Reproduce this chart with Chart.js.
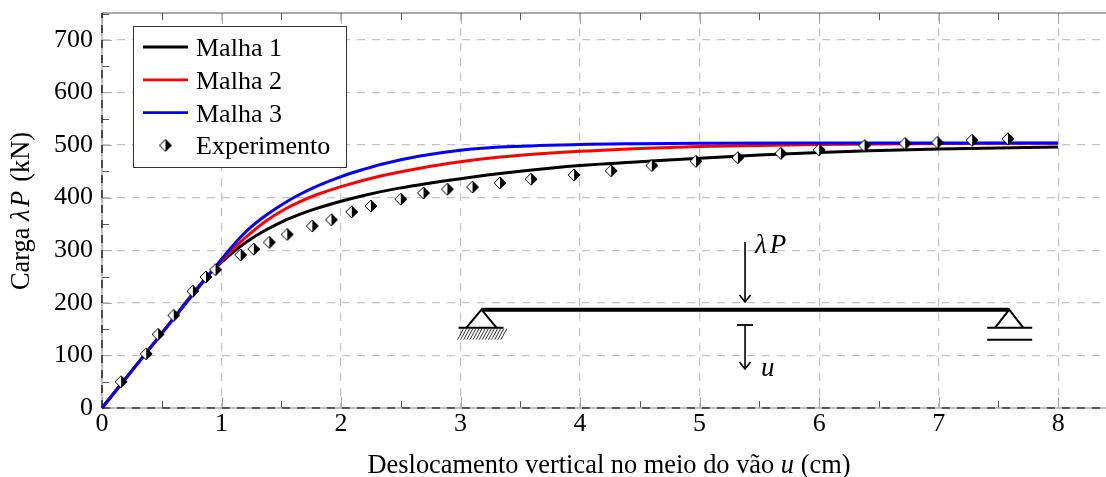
<!DOCTYPE html>
<html><head><meta charset="utf-8">
<style>html,body{margin:0;padding:0;background:#fff}canvas{display:block}</style>
<script src="https://cdn.jsdelivr.net/npm/chart.js@4/dist/chart.umd.min.js"></script>
</head><body><div style="width:1106px;height:477px"><canvas id="c"></canvas></div>
<script>
const malha1X=[0,0.5,0.9,1.1,1.236,1.375,1.514,1.653,1.79,2,2.208,2.486,3,3.5,4,4.5,5,5.5,6,6.5,7,7.5,8];
const malha1Y=[0,142,255,297,320,339,355,368,379,393,405,418,436,450,461,468,475,481,486,489.5,492.5,494.5,496];
const malha2X=[0,0.5,0.9,1.1,1.236,1.375,1.514,1.653,1.79,2,2.33,2.66,3,3.33,4,4.5,5,6,7,8];
const malha2Y=[0,142,255,303,331,356,376,392,405,421,441,456,468,477,488,493.5,497,501,503,503.5];
const malha3X=[0,0.5,0.9,1.1,1.236,1.375,1.514,1.653,1.79,2,2.208,2.33,2.66,3,3.33,4,4.5,5,6,8];
const malha3Y=[0,142,255,310,342,367,388,406,421,440,455,463,479,490,496,501,502.5,503.5,504,504];
const expX=[0.16,0.37,0.47,0.6,0.76,0.87,0.95,1.16,1.27,1.4,1.55,1.76,1.92,2.09,2.25,2.5,2.69,2.89,3.1,3.33,3.59,3.95,4.26,4.6,4.97,5.32,5.68,6.0,6.38,6.72,6.99,7.28,7.58];
const expY=[50,103,140,176,222,249,263,291,302,315,330,346,358,373,384,397,409,416,420,428,435,443,451,461,469,476,484,491,499,503,505,509,512];
const seriesNames=["Malha 1","Malha 2","Malha 3","Experimento"];
const seriesColors=["#000000","#ff0000","#0000ff"];
const xTitle=["Deslocamento vertical no meio do vão ","u"," (cm)"];
const yTitle=["Carga ","λP"," (kN)"];
const pair=(a,b)=>a.map((x,i)=>({x,y:b[i]}));
const FONT='"Liberation Serif"';
const SIZE=26;
function diamond(r){
  const c=document.createElement('canvas');const s=2*Math.ceil(r)+4;c.width=c.height=s;const g=c.getContext('2d');const m=s/2;
  g.fillStyle='#fff';g.beginPath();g.moveTo(m,m-r);g.lineTo(m-r,m);g.lineTo(m,m+r);g.closePath();g.fill();
  g.fillStyle='#000';g.beginPath();g.moveTo(m,m-r);g.lineTo(m+r,m);g.lineTo(m,m+r);g.closePath();g.fill();
  g.strokeStyle='#000';g.lineWidth=1;g.beginPath();g.moveTo(m,m-r);g.lineTo(m+r,m);g.lineTo(m,m+r);g.lineTo(m-r,m);g.closePath();g.stroke();
  return c;
}
const marker=diamond(6);
function line(g,pts,w){g.lineWidth=w;g.beginPath();pts.forEach((p,i)=>i?g.lineTo(p[0],p[1]):g.moveTo(p[0],p[1]));g.stroke();}
function arrow(g,x,y0,y1){line(g,[[x,y0],[x,y1]],1.6);line(g,[[x-5.5,y1-7],[x,y1],[x+5.5,y1-7]],1.6);}
const overlay={id:'overlay',
  beforeDatasetsDraw(ch){
    const g=ch.ctx,a=ch.chartArea,xs=ch.scales.x,ys=ch.scales.y;g.save();
    xs.ticks.forEach(t=>{const px=Math.round(xs.getPixelForValue(t.value))+.5,maj=Number.isInteger(t.value);
      g.strokeStyle=maj?'#a8a8a8':'#555';const l=maj?11:7;
      line(g,[[px,a.bottom],[px,a.bottom-l]],1);line(g,[[px,a.top],[px,a.top+l]],1);});
    ys.ticks.forEach(t=>{const py=Math.round(ys.getPixelForValue(t.value))+.5,maj=t.value%100===0;
      g.strokeStyle=maj?'#a8a8a8':'#555';const l=maj?10:7;
      line(g,[[a.left,py],[a.left+l,py]],1);});
    g.strokeStyle='#a8a8a8';line(g,[[a.left,a.bottom],[a.right,a.bottom]],1.4);line(g,[[a.left,a.bottom],[a.left,a.top]],1.4);
    g.strokeStyle='#555';line(g,[[a.left,a.top],[a.right,a.top]],1.2);
    g.strokeStyle='#000';g.setLineDash([8,7]);
    line(g,[[a.left,a.bottom],[a.right,a.bottom]],1.2);line(g,[[a.left,a.bottom],[a.left,a.top]],1.2);g.setLineDash([]);
    g.restore();
  },
  afterDraw(ch){
    const g=ch.ctx,a=ch.chartArea,xs=ch.scales.x,ys=ch.scales.y;g.save();
    const lx=133,ly=26,lw=213,lh=141;
    g.fillStyle='#fff';g.fillRect(lx,ly,lw,lh);g.strokeStyle='#333';g.lineWidth=1;g.strokeRect(lx+.5,ly+.5,lw,lh);
    g.font=SIZE+'px '+FONT;g.textBaseline='alphabetic';g.textAlign='left';g.fillStyle='#000';
    seriesNames.forEach((n,i)=>{const y=47+i*32.8;
      if(i<3){g.strokeStyle=seriesColors[i];line(g,[[143,y],[188,y]],i==0?3:2.8);}
      else g.drawImage(marker,165.5-marker.width/2,y-marker.height/2);
      g.fillStyle='#000';g.fillText(n,196,y+9);});
    let parts0=null;
    const setF=i=>{g.font=(i==1?'italic ':'')+'26.4px '+FONT;g.letterSpacing=(i==1&&parts0===yTitle)?'2.5px':'0px';};
    const seg=(parts,x,y)=>{parts0=parts;let c=x;parts.forEach((p,i)=>{setF(i);g.fillText(p,c,y);c+=g.measureText(p).width;});g.letterSpacing='0px';};
    const width=parts=>{parts0=parts;const w=parts.reduce((s,p,i)=>{setF(i);return s+g.measureText(p).width;},0);g.letterSpacing='0px';return w;};
    g.fillStyle='#000';
    seg(xTitle,609-width(xTitle)/2,473);
    g.save();g.translate(29,211);g.rotate(-Math.PI/2);seg(yTitle,-width(yTitle)/2,0);g.restore();
    const bx0=xs.getPixelForValue(3.175),bx1=xs.getPixelForValue(7.59),by=ys.getPixelForValue(187),mx=xs.getPixelForValue(5.38);
    g.strokeStyle='#000';g.fillStyle='#000';
    line(g,[[bx0,by],[bx1,by]],4);
    g.lineJoin='miter';
    line(g,[[bx0-15,by+18],[bx0,by],[bx0+15,by+18]],2);line(g,[[bx0-23,by+18],[bx0+22,by+18]],2);
    for(let i=0;i<15;i++){const hx=bx0-23+i*3.1;line(g,[[hx+5,by+19],[hx-1,by+30]],.8);}
    line(g,[[bx1-14,by+18],[bx1,by],[bx1+14,by+18]],2);line(g,[[bx1-22,by+18],[bx1+23,by+18]],2);line(g,[[bx1-22,by+30],[bx1+23,by+30]],2);
    arrow(g,mx,242,302);
    line(g,[[mx-8,325],[mx+8,325]],1.8);arrow(g,mx,325,369);
    g.font='italic 27px '+FONT;g.letterSpacing='3px';g.fillText('λP',755,253);g.letterSpacing='0px';
    g.fillText('u',761,376);
    g.restore();
  }};
new Chart(document.getElementById('c'),{
  type:'line',
  data:{datasets:[
    {label:seriesNames[0],order:3,clip:false,data:pair(malha1X,malha1Y),borderColor:seriesColors[0],borderWidth:3,pointRadius:0,cubicInterpolationMode:'monotone'},
    {label:seriesNames[1],order:2,clip:false,data:pair(malha2X,malha2Y),borderColor:seriesColors[1],borderWidth:3,pointRadius:0,cubicInterpolationMode:'monotone'},
    {label:seriesNames[2],order:1,clip:false,data:pair(malha3X,malha3Y),borderColor:seriesColors[2],borderWidth:3,pointRadius:0,cubicInterpolationMode:'monotone'},
    {label:seriesNames[3],order:0,data:pair(expX,expY),showLine:false,pointStyle:marker,pointRadius:6,borderColor:'#000',backgroundColor:'#000'}
  ]},
  options:{responsive:true,maintainAspectRatio:false,animation:false,
    layout:{autoPadding:false,padding:{top:13,right:0,left:0,bottom:0}},
    plugins:{legend:{display:false},tooltip:{enabled:false}},
    scales:{
      x:{type:'linear',min:0,max:8.4,
        afterFit(s){s.height=69;s.paddingLeft=0;s.paddingRight=0;},
        afterBuildTicks(s){s.ticks=[];for(let i=0;i<=16;i++)s.ticks.push({value:i/2});},
        border:{display:false,dash:[8,7]},
        grid:{color:c=>Number.isInteger(c.tick.value)?'#c4c4c4':'transparent',drawTicks:false,lineWidth:1.2},
        ticks:{autoSkip:false,maxRotation:0,padding:1,color:'#000',font:{family:FONT,size:SIZE},callback:v=>Number.isInteger(v)?String(v):''}},
      y:{type:'linear',min:0,max:751,
        afterFit(s){s.width=102;s.paddingTop=0;s.paddingBottom=0;},
        afterBuildTicks(s){s.ticks=[];for(let i=0;i<=15;i++)s.ticks.push({value:i*50});},
        border:{display:false,dash:[8,7]},
        grid:{color:c=>c.tick.value%100===0?'#c4c4c4':'transparent',drawTicks:false,lineWidth:1.2},
        ticks:{autoSkip:false,padding:9,color:'#000',font:{family:FONT,size:SIZE},callback:v=>v%100===0?String(v):''}}
    }},
  plugins:[overlay]
});
</script></body></html>
